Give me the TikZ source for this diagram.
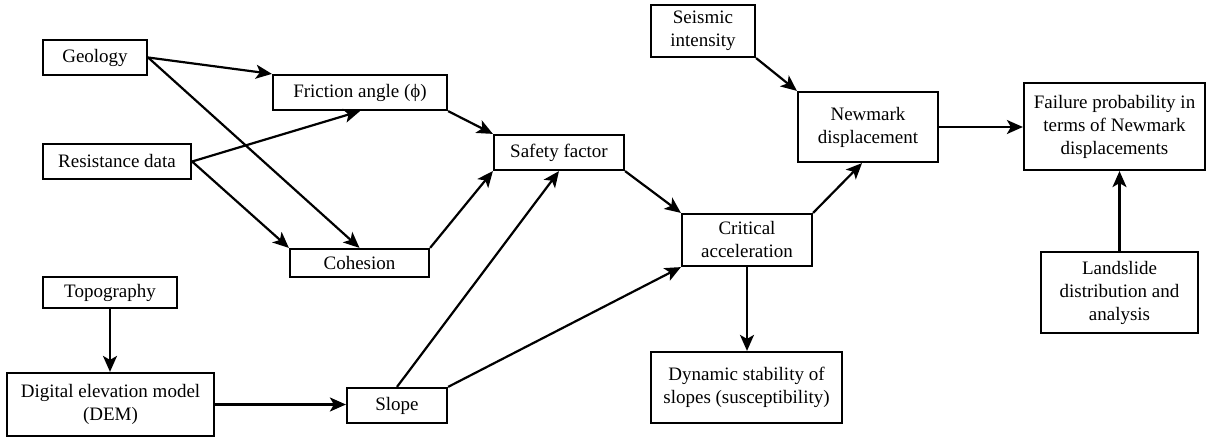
\documentclass[tikz,border=0pt]{standalone}
\usepackage{fontspec}
\setmainfont{Liberation Serif}[Ligatures=TeX]
\usetikzlibrary{arrows.meta}
\begin{document}
\begin{tikzpicture}[x=1pt,y=-1pt,
  box/.style={draw,line width=2.2pt,rectangle,inner sep=0pt,align=center,
    font=\rmfamily\fontsize{19}{23}\selectfont},
  arr/.style={line width=2.2pt,-{Stealth[length=16pt,width=14pt,inset=4pt]}}]
\useasboundingbox (0,0) rectangle (1207,438);
\node[box,minimum width=104pt,minimum height=35pt] (geo) at (95,57.5) {Geology};
\node[box,minimum width=174pt,minimum height=35pt] (fric) at (360,92.5) {Friction angle (\symbol{"03D5})};
\node[box,minimum width=148pt,minimum height=35pt] (res) at (117,161.5) {Resistance data};
\node[box,minimum width=139pt,minimum height=28pt] (coh) at (359.5,263) {Cohesion};
\node[box,minimum width=134pt,minimum height=31pt] (topo) at (110,292.5) {Topography};
\node[box,minimum width=207pt,minimum height=63pt] (dem) at (110.5,404.5) {Digital elevation model\\(DEM)};
\node[box,minimum width=100pt,minimum height=35pt] (slope) at (397,405.5) {Slope};
\node[box,minimum width=104pt,minimum height=52pt] (seis) at (703,31) {Seismic\\intensity};
\node[box,minimum width=130pt,minimum height=35pt] (safety) at (559,152.5) {Safety factor};
\node[box,minimum width=130pt,minimum height=52pt] (crit) at (747,240) {Critical\\acceleration};
\node[box,minimum width=140pt,minimum height=70pt] (newm) at (868,127) {Newmark\\displacement};
\node[box,minimum width=181pt,minimum height=87pt] (fail) at (1114.5,126.5) {Failure probability in\\terms of Newmark\\displacements};
\node[box,minimum width=157pt,minimum height=81pt] (land) at (1119.5,292.5) {Landslide\\distribution and\\analysis};
\node[box,minimum width=191pt,minimum height=71pt] (dyn) at (746.5,387.5) {Dynamic stability of\\slopes (susceptibility)};
\draw[arr] (geo.east) -- (fric.north west);
\draw[arr] (geo.east) -- (coh.north);
\draw[arr] (res.east) -- (fric.south);
\draw[arr] (res.east) -- (coh.north west);
\draw[arr] (fric.south east) -- (safety.north west);
\draw[arr] (coh.north east) -- (safety.south west);
\draw[arr] (slope.north) -- (safety.south);
\draw[arr] (slope.north east) -- (crit.south west);
\draw[arr] (safety.south east) -- (crit.north west);
\draw[arr] (crit.north east) -- ([xshift=-6pt]newm.south);
\draw[arr] (seis.south east) -- (newm.north west);
\draw[arr] (newm.east) -- (newm.east -| fail.west);
\draw[arr] (land.north) -- (land.north |- fail.south);
\draw[arr] (crit.south) -- (crit.south |- dyn.north);
\draw[arr] (topo.south) -- (topo.south |- dem.north);
\draw[arr] (dem.east) -- (dem.east -| slope.west);
\end{tikzpicture}
\end{document}
